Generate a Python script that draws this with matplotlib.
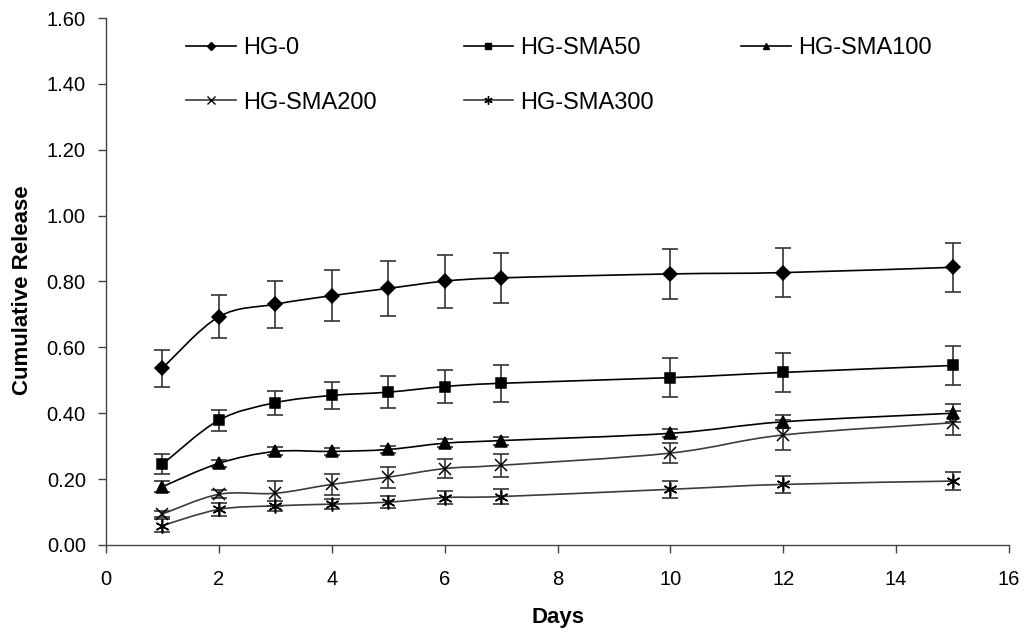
import numpy as np
import matplotlib
matplotlib.use("Agg")
import matplotlib.pyplot as plt
from matplotlib.path import Path
from matplotlib.patches import PathPatch
from matplotlib.lines import Line2D

plt.rcParams["font.family"] = ["Liberation Sans", "DejaVu Sans"]

days = [1, 2, 3, 4, 5, 6, 7, 10, 12, 15]

hg0 = [0.537, 0.693, 0.731, 0.757, 0.779, 0.801, 0.811, 0.823, 0.827, 0.843]
hg0_err = [0.056, 0.066, 0.072, 0.077, 0.083, 0.080, 0.075, 0.077, 0.075, 0.075]

sma50 = [0.245, 0.379, 0.432, 0.454, 0.464, 0.481, 0.491, 0.508, 0.524, 0.545]
sma50_err = [0.030, 0.032, 0.037, 0.040, 0.048, 0.050, 0.056, 0.059, 0.060, 0.060]

sma100 = [0.177, 0.248, 0.284, 0.284, 0.290, 0.309, 0.317, 0.339, 0.374, 0.400]
sma100_err = [0.016, 0.010, 0.012, 0.010, 0.010, 0.012, 0.012, 0.012, 0.020, 0.028]

sma200 = [0.094, 0.154, 0.157, 0.184, 0.206, 0.232, 0.242, 0.279, 0.334, 0.371]
sma200_err = [0.010, 0.012, 0.038, 0.032, 0.032, 0.030, 0.035, 0.031, 0.045, 0.037]

sma300 = [0.059, 0.108, 0.119, 0.124, 0.130, 0.144, 0.147, 0.169, 0.184, 0.194]
sma300_err = [0.020, 0.020, 0.015, 0.015, 0.018, 0.020, 0.022, 0.025, 0.026, 0.028]

labels = ["HG-0", "HG-SMA50", "HG-SMA100", "HG-SMA200", "HG-SMA300"]


def smooth_path(x, y):
    """Excel-style smoothed line: cubic Bezier through the points."""
    p = np.column_stack([x, y]).astype(float)
    n = len(p)
    verts = [p[0]]
    codes = [Path.MOVETO]
    for i in range(n - 1):
        p0 = p[i - 1] if i > 0 else p[i]
        p1, p2 = p[i], p[i + 1]
        p3 = p[i + 2] if i + 2 < n else p[i + 1]
        c1 = p1 + (p2 - p0) / 6.0
        c2 = p2 - (p3 - p1) / 6.0
        verts += [c1, c2, p2]
        codes += [Path.CURVE4] * 3
    return Path(verts, codes)


fig = plt.figure(figsize=(10.29, 6.34), dpi=100)
ax = fig.add_axes([0.103, 0.1404, 0.8776, 0.8312])

series = [
    (hg0, hg0_err, "D", 7, "black"),
    (sma50, sma50_err, "s", 7.5, "black"),
    (sma100, sma100_err, "^", 8, "black"),
    (sma200, sma200_err, "x", 9, "#3c3c3c"),
    (sma300, sma300_err, (6, 2, 0), 10, "#3c3c3c"),
]

handles = []
for (vals, err, mk, ms, lc), lab in zip(series, labels):
    ax.add_patch(PathPatch(smooth_path(days, vals), fill=False,
                           edgecolor=lc, lw=1.2, zorder=2))
    ax.errorbar(days, vals, yerr=err, fmt="none", ecolor="#333333",
                elinewidth=1.2, capsize=5.5, capthick=1.2, zorder=3)
    ax.plot(days, vals, ls="none", marker=mk, ms=ms, color="black",
            mec="black", mew=1.1, zorder=4)
    handles.append(Line2D([], [], color=lc, lw=1.2, marker=mk,
                          ms=ms * 0.6, mfc="black", mec="black", mew=1.0))

# legend is filled column by column: reorder so rows read like the original
order = [0, 3, 1, 4, 2]
ax.legend([handles[i] for i in order], [labels[i] for i in order],
          ncol=3, loc="upper left", bbox_to_anchor=(0.0886, 0.964),
          frameon=False, fontsize=17, handlelength=2.1, handletextpad=0.3,
          columnspacing=3.7, labelspacing=1.38, borderpad=0, borderaxespad=0)

ax.set_xlim(0, 16)
ax.set_ylim(0, 1.6)
ax.set_xticks(np.arange(0, 17, 2))
ax.set_yticks(np.arange(0, 1.61, 0.2))
ax.set_yticklabels([f"{v:.2f}" for v in np.arange(0, 1.61, 0.2)])
ax.tick_params(axis="both", labelsize=14.5, length=6, width=1.0,
               color="#444444", direction="out")
ax.tick_params(axis="y", pad=8.5)
ax.tick_params(axis="x", pad=12)
for side in ("top", "right"):
    ax.spines[side].set_visible(False)
for side in ("left", "bottom"):
    ax.spines[side].set_color("#444444")
    ax.spines[side].set_linewidth(1.0)

ax.set_ylabel("Cumulative Release", fontsize=16, fontweight="bold")
ax.set_xlabel("Days", fontsize=16, fontweight="bold")
ax.yaxis.set_label_coords(-0.081, 0.484)
ax.xaxis.set_label_coords(0.5, -0.118)

fig.savefig("out.png", dpi=100)
